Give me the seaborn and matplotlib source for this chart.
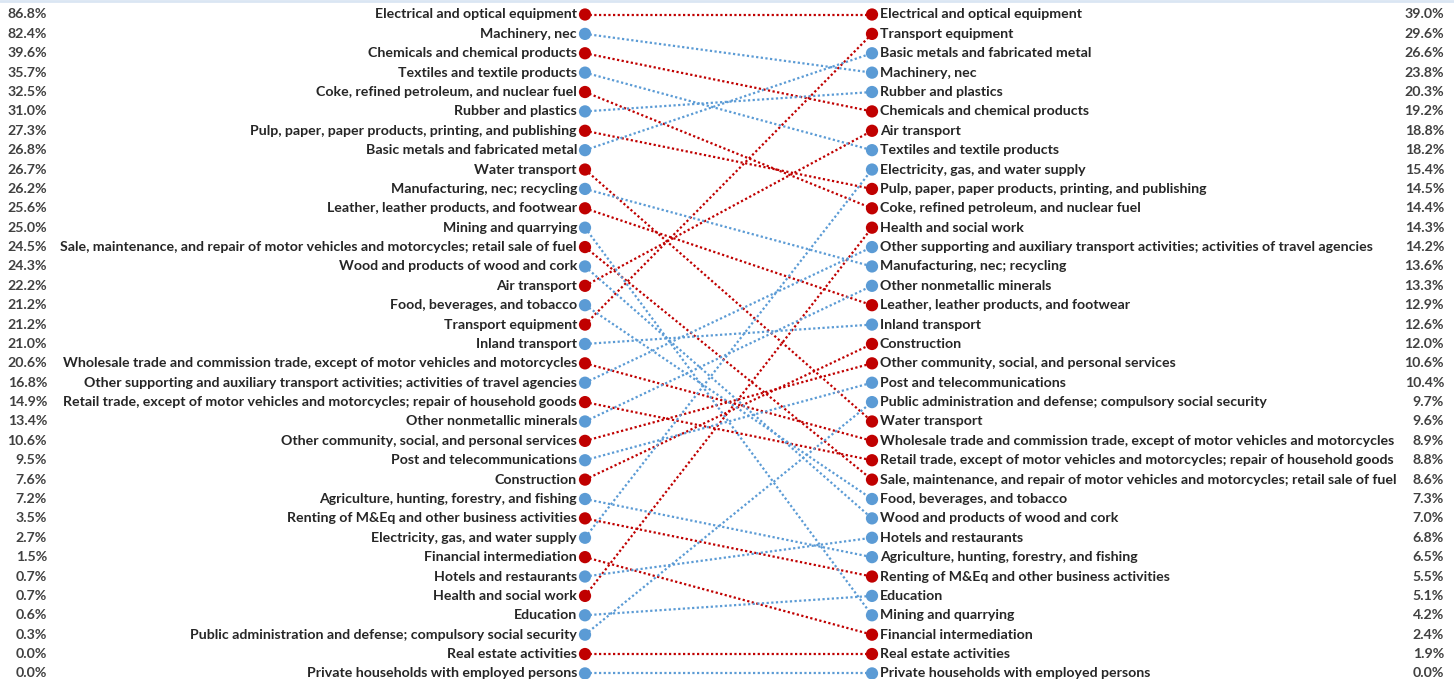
import matplotlib
matplotlib.use("Agg")
import matplotlib.pyplot as plt
import seaborn as sns
import pandas as pd

# Industries ranked by the left-hand share (highest first)
left_order = [
    "Electrical and optical equipment",
    "Machinery, nec",
    "Chemicals and chemical products",
    "Textiles and textile products",
    "Coke, refined petroleum, and nuclear fuel",
    "Rubber and plastics",
    "Pulp, paper, paper products, printing, and publishing",
    "Basic metals and fabricated metal",
    "Water transport",
    "Manufacturing, nec; recycling",
    "Leather, leather products, and footwear",
    "Mining and quarrying",
    "Sale, maintenance, and repair of motor vehicles and motorcycles; retail sale of fuel",
    "Wood and products of wood and cork",
    "Air transport",
    "Food, beverages, and tobacco",
    "Transport equipment",
    "Inland transport",
    "Wholesale trade and commission trade, except of motor vehicles and motorcycles",
    "Other supporting and auxiliary transport activities; activities of travel agencies",
    "Retail trade, except of motor vehicles and motorcycles; repair of household goods",
    "Other nonmetallic minerals",
    "Other community, social, and personal services",
    "Post and telecommunications",
    "Construction",
    "Agriculture, hunting, forestry, and fishing",
    "Renting of M&Eq and other business activities",
    "Electricity, gas, and water supply",
    "Financial intermediation",
    "Hotels and restaurants",
    "Health and social work",
    "Education",
    "Public administration and defense; compulsory social security",
    "Real estate activities",
    "Private households with employed persons",
]
left_share = [86.8, 82.4, 39.6, 35.7, 32.5, 31.0, 27.3, 26.8, 26.7, 26.2, 25.6, 25.0,
              24.5, 24.3, 22.2, 21.2, 21.2, 21.0, 20.6, 16.8, 14.9, 13.4, 10.6, 9.5,
              7.6, 7.2, 3.5, 2.7, 1.5, 0.7, 0.7, 0.6, 0.3, 0.0, 0.0]
left_group = ["red", "blue", "red", "blue", "red", "blue", "red", "blue", "red", "blue",
              "red", "blue", "red", "blue", "red", "blue", "red", "blue", "red", "blue",
              "red", "blue", "red", "blue", "red", "blue", "red", "blue", "red", "blue",
              "red", "blue", "blue", "red", "blue"]

# Industries ranked by the right-hand share (highest first)
right_order = [
    "Electrical and optical equipment",
    "Transport equipment",
    "Basic metals and fabricated metal",
    "Machinery, nec",
    "Rubber and plastics",
    "Chemicals and chemical products",
    "Air transport",
    "Textiles and textile products",
    "Electricity, gas, and water supply",
    "Pulp, paper, paper products, printing, and publishing",
    "Coke, refined petroleum, and nuclear fuel",
    "Health and social work",
    "Other supporting and auxiliary transport activities; activities of travel agencies",
    "Manufacturing, nec; recycling",
    "Other nonmetallic minerals",
    "Leather, leather products, and footwear",
    "Inland transport",
    "Construction",
    "Other community, social, and personal services",
    "Post and telecommunications",
    "Public administration and defense; compulsory social security",
    "Water transport",
    "Wholesale trade and commission trade, except of motor vehicles and motorcycles",
    "Retail trade, except of motor vehicles and motorcycles; repair of household goods",
    "Sale, maintenance, and repair of motor vehicles and motorcycles; retail sale of fuel",
    "Food, beverages, and tobacco",
    "Wood and products of wood and cork",
    "Hotels and restaurants",
    "Agriculture, hunting, forestry, and fishing",
    "Renting of M&Eq and other business activities",
    "Education",
    "Mining and quarrying",
    "Financial intermediation",
    "Real estate activities",
    "Private households with employed persons",
]
right_share = [39.0, 29.6, 26.6, 23.8, 20.3, 19.2, 18.8, 18.2, 15.4, 14.5, 14.4, 14.3,
               14.2, 13.6, 13.3, 12.9, 12.6, 12.0, 10.6, 10.4, 9.7, 9.6, 8.9, 8.8,
               8.6, 7.3, 7.0, 6.8, 6.5, 5.5, 5.1, 4.2, 2.4, 1.9, 0.0]

palette = {"red": "#C00000", "blue": "#5B9BD5"}
group_of = dict(zip(left_order, left_group))
right_rank = {name: i for i, name in enumerate(right_order)}

rows = []
for i, name in enumerate(left_order):
    rows.append({"industry": name, "side": 0, "rank": i, "group": group_of[name]})
    rows.append({"industry": name, "side": 1, "rank": right_rank[name], "group": group_of[name]})
df = pd.DataFrame(rows)

sns.set_theme(style="white")
plt.rcParams["font.family"] = ["Lato", "DejaVu Sans"]

W, H = 1454, 679
fig = plt.figure(figsize=(W / 100, H / 100), dpi=100)
ax = fig.add_axes([0, 0, 1, 1])

# pixel layout of the two columns
x_left_px, x_right_px = 585, 872
y_top_px, row_px = 14.5, 19.38
unit = x_right_px - x_left_px


def px_x(p):
    return (p - x_left_px) / unit


ax.set_xlim(px_x(0), px_x(W))
ax.set_ylim((H - y_top_px) / row_px, -y_top_px / row_px)
ax.axis("off")

sns.lineplot(data=df, x="side", y="rank", units="industry", estimator=None,
             hue="group", palette=palette, linestyle=(0, (1, 1.1)), linewidth=1.6,
             legend=False, ax=ax, sort=False)
sns.scatterplot(data=df, x="side", y="rank", hue="group", palette=palette,
                s=78, linewidth=0, legend=False, ax=ax, zorder=3)

txt = dict(fontsize=10.15, fontweight="bold", color="#262626", va="center")
pct = dict(fontsize=10.15, fontweight="bold", color="#404040", va="center")
for i, (name, v) in enumerate(zip(left_order, left_share)):
    ax.text(px_x(577), i, name, ha="right", **txt)
    ax.text(px_x(47), i, f"{v:.1f}%", ha="right", **pct)
for i, (name, v) in enumerate(zip(right_order, right_share)):
    ax.text(px_x(880), i, name, ha="left", **txt)
    ax.text(px_x(1444), i, f"{v:.1f}%", ha="right", **pct)

# thin frame line along the top edge
fig.add_artist(plt.Line2D([0, 1], [0.999, 0.999], color="#DAE6F3", linewidth=2,
                          transform=fig.transFigure))

fig.savefig("out.png", dpi=100, facecolor="white")
